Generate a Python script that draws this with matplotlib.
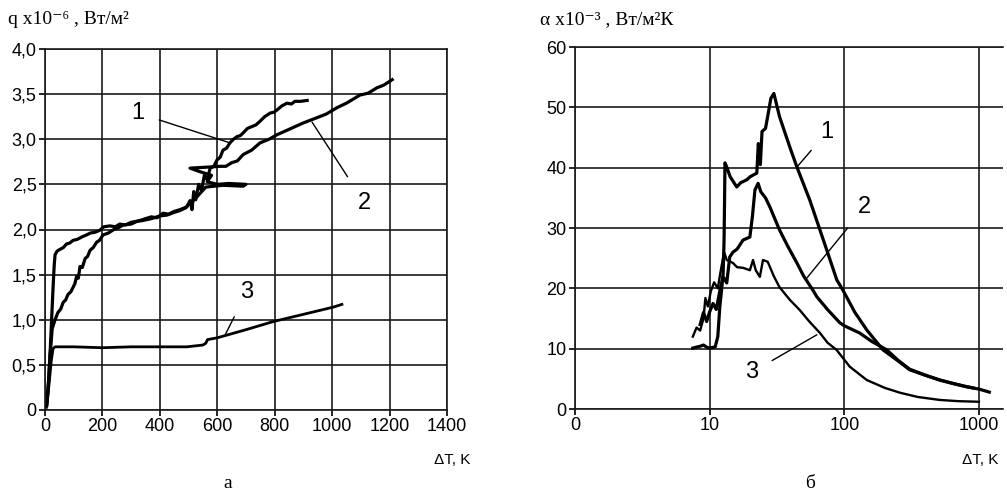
import matplotlib
matplotlib.use("Agg")
import matplotlib.pyplot as plt
import numpy as np

# ---------------- data: panel a (q vs dT) ----------------
q1_dT = [6, 12, 18, 23, 28, 32, 35, 42, 52, 64, 75, 86, 98, 112, 130, 145, 157, 175, 190, 205, 226,
         245, 260, 280, 300, 318, 331, 350, 370, 390, 411, 430, 450, 470, 494, 505, 512, 518, 525,
         535, 545, 555, 565, 575, 588, 599, 610, 620, 632, 644, 656, 669, 680, 690, 705, 720, 735,
         749, 765, 784, 798, 810, 825, 843, 858, 870, 890, 913]
q1_q = [0.06, 0.30, 0.65, 1.00, 1.35, 1.60, 1.72, 1.76, 1.78, 1.80, 1.84, 1.85, 1.88, 1.89, 1.92,
        1.94, 1.96, 1.97, 1.99, 2.03, 2.04, 2.03, 2.06, 2.05, 2.08, 2.09, 2.10, 2.12, 2.14, 2.13,
        2.18, 2.17, 2.20, 2.22, 2.25, 2.32, 2.22, 2.42, 2.33, 2.50, 2.43, 2.60, 2.55, 2.68, 2.70,
        2.77, 2.80, 2.88, 2.90, 2.96, 3.00, 3.03, 3.04, 3.07, 3.12, 3.14, 3.16, 3.20, 3.25, 3.29,
        3.30, 3.33, 3.37, 3.40, 3.39, 3.42, 3.42, 3.43]

q2_dT = [6, 12, 18, 25, 35, 45, 55, 63, 72, 80, 90, 98, 104, 110, 116, 122, 130, 140, 148, 157,
         168, 180, 190, 202, 220, 240, 256, 272, 300, 320, 341, 370, 400, 425, 450, 470, 490, 500,
         520, 540, 560, 620, 690, 700, 640, 600, 565, 580, 540, 505, 560, 610, 630, 650, 670, 690,
         720, 749, 780, 808, 850, 899, 948, 980, 1017, 1050, 1097, 1125, 1156, 1180, 1209]
q2_q = [0.05, 0.30, 0.62, 0.90, 1.00, 1.08, 1.12, 1.19, 1.22, 1.28, 1.31, 1.36, 1.40, 1.48, 1.46,
        1.59, 1.58, 1.68, 1.70, 1.77, 1.80, 1.86, 1.88, 1.94, 1.96, 2.00, 2.02, 2.05, 2.06, 2.09,
        2.10, 2.12, 2.15, 2.16, 2.19, 2.21, 2.24, 2.28, 2.33, 2.40, 2.47, 2.49, 2.48, 2.50, 2.51,
        2.50, 2.53, 2.60, 2.64, 2.68, 2.69, 2.70, 2.70, 2.74, 2.76, 2.83, 2.88, 2.96, 3.00, 3.05,
        3.11, 3.18, 3.24, 3.28, 3.35, 3.40, 3.49, 3.51, 3.57, 3.60, 3.66]

q3_dT = [5, 10, 16, 22, 28, 35, 100, 200, 300, 400, 494, 550, 560, 566, 600, 700, 795, 900, 1004, 1034]
q3_q = [0.03, 0.15, 0.35, 0.55, 0.68, 0.70, 0.70, 0.69, 0.70, 0.70, 0.70, 0.72, 0.74, 0.78,
        0.80, 0.89, 0.98, 1.06, 1.14, 1.17]

# ---------------- data: panel b (alpha vs dT) ----------------
a1_dT = [7.5, 8.5, 9.0, 9.6, 10.0, 11.0, 11.5, 11.9, 12.3, 12.6, 12.8, 12.9, 13.0, 13.4, 14.2,
         15.9, 17.0, 18.9, 20.0, 22.4, 23.0, 23.8, 24.5, 26.0, 27.0, 28.5, 30.0, 31.0, 33.0, 36.0,
         40.0, 44.5, 55.5, 74.0, 88.0, 97.7, 120, 147, 194, 250, 306, 400, 512, 650, 807, 900]
a1_a = [10.1, 10.4, 10.6, 10.2, 10.1, 10.3, 12.0, 16.9, 20.0, 22.5, 28.0, 34.0, 40.8, 40.1, 38.5,
        36.8, 37.5, 38.0, 38.5, 39.1, 44.0, 40.5, 46.0, 46.5, 48.5, 51.5, 52.3, 51.0, 48.5, 46.0,
        43.0, 40.1, 34.6, 26.4, 21.4, 19.7, 16.0, 13.1, 9.8, 8.0, 6.5, 5.6, 4.8, 4.2, 3.7, 3.5]

a2_dT = [8.5, 9.0, 9.5, 10.0, 10.6, 11.2, 12.0, 12.6, 13.4, 14.1, 14.9, 16.0, 17.7, 19.9, 20.8,
         21.7, 22.9, 24.0, 26.0, 28.0, 33.0, 38.0, 44.5, 50.0, 58.5, 62.6, 75.0, 92.6, 100, 130,
         160, 207, 250, 306, 400, 512, 650, 807, 1000, 1195]
a2_a = [14.0, 16.0, 14.5, 16.1, 17.5, 16.5, 20.0, 21.9, 20.9, 25.2, 26.0, 26.5, 28.0, 28.5, 32.0,
        36.3, 37.4, 36.0, 35.0, 33.5, 29.7, 27.0, 24.2, 22.0, 19.7, 18.6, 16.5, 14.3, 13.8, 12.6,
        11.2, 9.8, 8.1, 6.6, 5.6, 4.8, 4.2, 3.7, 3.3, 2.8]

a3_dT = [7.5, 8.0, 8.5, 9.0, 9.3, 9.7, 10.2, 10.8, 11.5, 12.0, 12.8, 13.4, 14.9, 16.0, 17.7, 19.9,
         21.0, 22.0, 23.6, 24.9, 27.0, 30.0, 33.0, 39.4, 46.7, 55.0, 66.0, 75.0, 87.6, 110, 147,
         200, 259, 350, 512, 700, 1000]
a3_a = [12.0, 13.5, 13.0, 15.0, 18.4, 17.0, 19.5, 21.0, 20.0, 22.5, 26.0, 24.7, 24.2, 23.5, 23.4,
        23.0, 24.7, 23.0, 21.9, 24.7, 24.4, 22.0, 20.2, 18.1, 16.4, 14.5, 12.6, 11.0, 9.8, 7.0,
        4.8, 3.5, 2.7, 2.0, 1.5, 1.3, 1.2]

# ticks
a_xticks = [0, 200, 400, 600, 800, 1000, 1200, 1400]
a_yticks = [0, 0.5, 1.0, 1.5, 2.0, 2.5, 3.0, 3.5, 4.0]
a_ylabels = ["0", "0,5", "1,0", "1,5", "2,0", "2,5", "3,0", "3,5", "4,0"]
b_xticks = [1, 10, 100, 1000]
b_xlabels = ["0", "10", "100", "1000"]
b_yticks = [0, 10, 20, 30, 40, 50, 60]

SANS = "Liberation Sans"
SERIF = ["Liberation Serif", "DejaVu Serif"]
plt.rcParams["font.family"] = [SANS, "DejaVu Sans"]

W, H = 1007, 499
fig = plt.figure(figsize=(W / 100, H / 100), dpi=100)

def fx(px):
    return px / W

def fy(py):
    return 1 - py / H

ax1 = fig.add_axes([fx(45), fy(410), (447 - 45) / W, (410 - 49) / H])
ax2 = fig.add_axes([fx(575), fy(409), (1003 - 575) / W, (409 - 47) / H])

grid_kw = dict(color="#1a1a1a", linewidth=1.2)

# ---- panel a ----
ax1.plot(q1_dT, q1_q, color="black", lw=2.3, solid_joinstyle="round")
ax1.plot(q2_dT, q2_q, color="black", lw=2.3, solid_joinstyle="round")
ax1.plot(q3_dT, q3_q, color="black", lw=2.0)
ax1.set_xlim(0, 1400)
ax1.set_ylim(0, 4.0)
ax1.set_xticks(a_xticks)
ax1.set_yticks(a_yticks)
ax1.set_yticklabels(a_ylabels)
ax1.grid(True, **grid_kw)
for s in ax1.spines.values():
    s.set_color("#1a1a1a")
    s.set_linewidth(1.2)
ax1.tick_params(direction="out", length=4, width=1.2, labelsize=13, pad=2)

ax1.annotate("1", xy=(644, 2.96), xytext=(324, 3.29), fontsize=17, ha="center", va="center",
             arrowprops=dict(arrowstyle="-", lw=1.0, color="black", shrinkA=9, shrinkB=0))
ax1.annotate("2", xy=(930, 3.19), xytext=(1114, 2.29), fontsize=17, ha="center", va="center",
             arrowprops=dict(arrowstyle="-", lw=1.0, color="black", shrinkA=11, shrinkB=0))
ax1.annotate("3", xy=(627, 0.83), xytext=(703, 1.31), fontsize=17, ha="center", va="center",
             arrowprops=dict(arrowstyle="-", lw=1.0, color="black", shrinkA=9, shrinkB=0))

# ---- panel b ----
ax2.plot(a1_dT, a1_a, color="black", lw=2.3, solid_joinstyle="round")
ax2.plot(a2_dT, a2_a, color="black", lw=2.3, solid_joinstyle="round")
ax2.plot(a3_dT, a3_a, color="black", lw=1.7)
ax2.set_xscale("log")
ax2.set_xlim(1, 1510)
ax2.set_ylim(0, 60)
ax2.set_xticks(b_xticks)
ax2.set_xticklabels(b_xlabels)
ax2.xaxis.set_minor_locator(matplotlib.ticker.NullLocator())
ax2.set_yticks(b_yticks)
ax2.grid(True, **grid_kw)
for s in ax2.spines.values():
    s.set_color("#1a1a1a")
    s.set_linewidth(1.2)
ax2.spines["right"].set_visible(False)
ax2.tick_params(direction="out", length=4, width=1.2, labelsize=13, pad=2)

ax2.annotate("1", xy=(44.5, 40.1), xytext=(74.3, 45.9), fontsize=17, ha="center", va="center",
             arrowprops=dict(arrowstyle="-", lw=1.0, color="black", shrinkA=7, shrinkB=0))
ax2.annotate("2", xy=(52.7, 21.7), xytext=(142, 33.5), fontsize=17, ha="center", va="center",
             arrowprops=dict(arrowstyle="-", lw=1.0, color="black", shrinkA=9, shrinkB=0))
ax2.annotate("3", xy=(62.6, 12.3), xytext=(20.6, 6.1), fontsize=17, ha="center", va="center",
             arrowprops=dict(arrowstyle="-", lw=1.0, color="black", shrinkA=9, shrinkB=0))

# ---- titles / labels ----
fig.text(fx(8), fy(20), "q x10\u207b\u2076 , Вт/м\u00b2", family=SERIF, fontsize=14,
         ha="left", va="center")
fig.text(fx(540), fy(20), "\u03b1 x10\u207b\u00b3 , Вт/м\u00b2К", family=SERIF, fontsize=14,
         ha="left", va="center")
fig.text(fx(470), fy(460), "\u0394T, K", fontsize=11, ha="right", va="center")
fig.text(fx(998), fy(460), "\u0394T, K", fontsize=11, ha="right", va="center")
fig.text(fx(228), fy(484), "а", family=SERIF, fontsize=14, ha="center", va="center")
fig.text(fx(810), fy(484), "б", family=SERIF, fontsize=14, ha="center", va="center")

fig.savefig("out.png", dpi=100, facecolor="white")
